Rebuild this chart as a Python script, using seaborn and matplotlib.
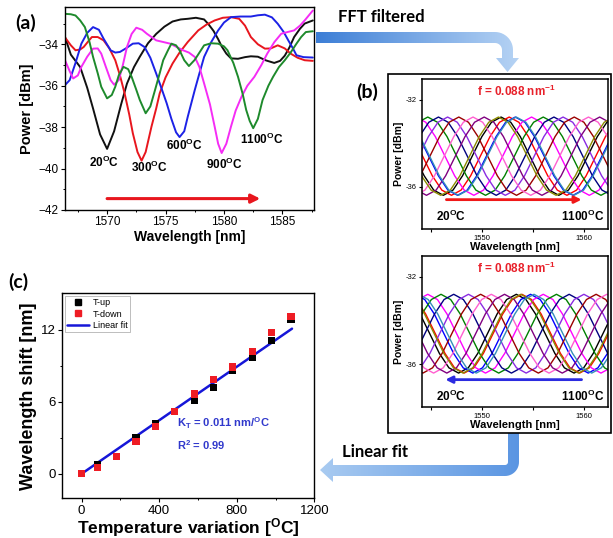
import numpy as np
import pandas as pd
import matplotlib
matplotlib.use("Agg")
import matplotlib.pyplot as plt
import seaborn as sns
from matplotlib.path import Path
from matplotlib.patches import PathPatch, Rectangle
from matplotlib.colors import LinearSegmentedColormap
from matplotlib.lines import Line2D

# ---------------- panel (a): raw transmission spectra ----------------
temps_a = ["20", "300", "600", "900", "1100"]
colors_a = ["#111111", "#e8161e", "#1c22e6", "#f52cf5", "#1e8a2c"]

wl_20 = [1566.4, 1566.9, 1567.7, 1568.3, 1568.8, 1569.4, 1570.0, 1570.6, 1571.2, 1571.7, 1572.3, 1572.8,
         1573.5, 1574.2, 1574.9, 1575.6, 1576.3, 1576.9, 1577.6, 1578.3, 1578.7, 1579.1, 1579.5, 1579.8,
         1580.2, 1580.6, 1581.2, 1581.8, 1582.3, 1582.9, 1583.6, 1584.3, 1584.8, 1585.2, 1585.6, 1586.0,
         1586.5, 1586.9, 1587.6]
pw_20 = [-33.65, -34.5, -35.1, -36.1, -37.1, -38.35, -39.05, -38.2, -36.9, -35.9, -35.1, -34.6,
         -33.95, -33.5, -33.15, -32.9, -32.8, -32.77, -32.72, -32.8, -33.05, -33.35, -33.75, -34.1,
         -34.45, -34.68, -34.7, -34.62, -34.58, -34.6, -34.78, -34.9, -34.8, -34.55, -34.15, -33.65,
         -33.25, -33.0, -32.85]

wl_300 = [1566.4, 1566.9, 1567.3, 1567.7, 1568.0, 1568.4, 1568.7, 1569.2, 1569.7, 1570.2, 1570.7, 1571.1,
          1571.5, 1571.9, 1572.2, 1572.6, 1572.95, 1573.3, 1573.8, 1574.2, 1574.5, 1575.0, 1575.6, 1576.2,
          1576.9, 1577.8, 1578.5, 1579.2, 1579.9, 1580.6, 1581.3, 1581.8, 1582.3, 1582.9, 1583.5, 1584.0,
          1584.6, 1585.2, 1585.7, 1586.3, 1586.9, 1587.6]
pw_300 = [-33.67, -34.05, -34.29, -34.25, -34.13, -33.85, -33.65, -33.65, -33.81, -34.2, -34.77, -35.5,
          -36.37, -37.4, -38.29, -39.2, -39.62, -39.2, -37.97, -37.1, -36.37, -35.6, -34.93, -34.4,
          -33.89, -33.33, -33.05, -32.85, -32.72, -32.69, -32.77, -33.1, -33.65, -34.0, -34.21, -34.2,
          -34.05, -34.2, -34.45, -34.65, -34.77, -34.8]

wl_600 = [1566.4, 1566.8, 1567.3, 1567.8, 1568.3, 1568.8, 1569.3, 1569.7, 1570.3, 1570.7, 1571.1, 1571.6,
          1572.2, 1572.7, 1573.2, 1573.7, 1574.2, 1574.7, 1575.1, 1575.5, 1575.9, 1576.2, 1576.6, 1576.9,
          1577.5, 1577.9, 1578.3, 1578.9, 1579.5, 1580.0, 1580.6, 1581.4, 1582.3, 1582.9, 1583.5, 1584.1,
          1584.6, 1585.1, 1585.5, 1585.9, 1586.2, 1586.8, 1587.6]
pw_600 = [-35.97, -35.73, -34.9, -33.97, -33.45, -33.17, -33.3, -33.73, -34.29, -34.4, -34.37, -34.2,
          -33.97, -33.95, -34.13, -34.65, -35.41, -36.2, -36.85, -37.6, -38.25, -38.48, -38.2, -37.5,
          -36.21, -35.4, -34.61, -33.9, -33.33, -32.95, -32.69, -32.66, -32.66, -32.6, -32.57, -32.7,
          -33.01, -33.4, -33.81, -34.2, -34.53, -34.62, -34.64]

wl_900 = [1566.4, 1566.8, 1567.1, 1567.5, 1567.8, 1568.3, 1568.8, 1569.2, 1569.5, 1569.9, 1570.3, 1570.6,
          1571.0, 1571.35, 1571.7, 1572.1, 1572.5, 1573.0, 1573.4, 1574.2, 1575.4, 1576.5, 1577.0, 1577.5,
          1577.9, 1578.3, 1578.8, 1579.2, 1579.5, 1579.8, 1580.2, 1580.6, 1581.0, 1581.5, 1582.0, 1582.6,
          1583.2, 1583.7, 1584.3, 1584.9, 1585.5, 1586.0, 1586.5, 1586.9, 1587.6]
pw_900 = [-34.77, -35.3, -35.65, -35.5, -35.09, -34.6, -34.21, -34.2, -34.45, -35.1, -35.73, -35.95,
          -35.73, -35.0, -34.13, -33.5, -33.2, -33.3, -33.49, -33.81, -33.97, -34.29, -34.4, -34.61,
          -35.1, -35.89, -36.9, -37.97, -38.8, -39.25, -38.8, -37.97, -37.2, -36.53, -36.0, -35.57,
          -35.0, -34.45, -33.9, -33.49, -33.4, -33.33, -33.1, -32.85, -32.37]

wl_1100 = [1566.4, 1566.9, 1567.3, 1567.7, 1568.1, 1568.5, 1568.8, 1569.2, 1569.5, 1570.0, 1570.4, 1570.7,
           1571.0, 1571.4, 1571.8, 1572.1, 1572.5, 1572.8, 1573.3, 1573.7, 1574.1, 1574.5, 1574.8, 1575.2,
           1575.5, 1575.9, 1576.2, 1576.6, 1577.0, 1577.5, 1578.3, 1578.9, 1579.5, 1580.0, 1580.3, 1580.8,
           1581.2, 1581.6, 1581.9, 1582.2, 1582.5, 1582.9, 1583.3, 1583.8, 1584.2, 1584.7, 1585.2, 1585.7,
           1586.2, 1586.6, 1587.0, 1587.6]
pw_1100 = [-32.53, -32.55, -32.61, -32.85, -33.17, -33.9, -34.61, -35.4, -36.05, -36.61, -36.45, -36.05,
           -35.5, -35.09, -35.2, -35.57, -36.2, -36.69, -37.33, -37.0, -36.21, -35.4, -34.77, -34.3,
           -33.97, -34.05, -34.29, -34.77, -35.05, -34.75, -34.05, -33.95, -33.97, -34.1, -34.29, -34.9,
           -35.57, -36.4, -37.17, -37.7, -38.05, -37.6, -36.69, -36.0, -35.57, -35.1, -34.77, -34.4,
           -33.97, -33.65, -33.41, -33.37]

# ---------------- panel (b): FFT filtered fringes ----------------
# one fringe, relative to its dip
fringe_offset = [-18.93, -17.99, -17.04, -16.09, -15.15, -14.20, -13.25, -12.31, -11.36, -10.41, -9.47,
                 -8.52, -7.57, -6.63, -5.68, -4.73, -3.79, -2.84, -1.89, -0.95, 0.00, 0.95, 1.89, 2.84,
                 3.79, 4.73, 5.68, 6.63, 7.57, 8.52, 9.47, 10.41, 11.36, 12.31, 13.25, 14.20, 15.15,
                 16.09, 17.04, 17.99, 18.93]
fringe_power = [-33.70, -33.04, -32.80, -33.04, -33.70, -34.60, -35.50, -36.16, -36.40, -36.16, -35.50,
                -34.60, -33.70, -33.04, -32.80, -33.04, -33.70, -34.60, -35.50, -36.16, -36.40, -36.16,
                -35.50, -34.60, -33.70, -33.04, -32.80, -33.04, -33.70, -34.60, -35.50, -36.16, -36.40,
                -36.16, -35.50, -34.60, -33.70, -33.04, -32.80, -33.04, -33.70]
dip_20C_up = 1546.2
dip_20C_down = 1547.7
fringe_colors = ["#000000", "#ff0000", "#0000ff", "#ff00ff", "#008000", "#000080",
                 "#8a2be2", "#9b0000", "#ff5fd0", "#800080", "#8b8b00", "#3590b8"]

# ---------------- panel (c): wavelength shift vs temperature ----------------
temp_var = [0, 80, 180, 280, 380, 480, 580, 680, 780, 880, 980, 1080]
shift_up = [0.0, 0.80, 1.40, 3.00, 4.15, 5.20, 6.10, 7.20, 8.60, 9.70, 11.10, 12.85]
shift_down = [0.0, 0.55, 1.40, 2.65, 3.95, 5.20, 6.65, 7.85, 8.90, 10.20, 11.80, 13.10]
fit_x = [0, 1085]
fit_y = [0.0, 12.1]

# ---------------- style ----------------
sns.set_theme(style="ticks")
plt.rcParams["font.family"] = ["Liberation Sans", "DejaVu Sans"]
plt.rcParams.update({
    "mathtext.fontset": "custom",
    "mathtext.rm": "Liberation Sans",
    "mathtext.bf": "Liberation Sans:bold",
    "mathtext.it": "Liberation Sans:italic",
    "axes.edgecolor": "black",
    "xtick.color": "black",
    "ytick.color": "black",
    "text.color": "black",
    "axes.labelcolor": "black",
})

W, H = 613, 538
fig = plt.figure(figsize=(W / 100, H / 100), dpi=100)


def px_axes(x0, y0, x1, y1):
    return fig.add_axes([x0 / W, 1 - y1 / H, (x1 - x0) / W, (y1 - y0) / H])


def style_axes(ax, lw=1.0, size=8.5, length=3):
    for s in ax.spines.values():
        s.set_linewidth(lw)
        s.set_color("black")
    ax.tick_params(which="major", direction="out", length=length, width=0.8, labelsize=size, pad=1.5)
    ax.tick_params(which="minor", direction="out", length=length * 0.55, width=0.7)


# ---- (a)
ax_a = px_axes(65, 7, 314, 210)
spec = pd.concat([
    pd.DataFrame({"wavelength": w, "power": p, "temp": t})
    for w, p, t in zip([wl_20, wl_300, wl_600, wl_900, wl_1100],
                       [pw_20, pw_300, pw_600, pw_900, pw_1100], temps_a)
])
sns.lineplot(data=spec, x="wavelength", y="power", hue="temp", hue_order=temps_a,
             palette=dict(zip(temps_a, colors_a)), estimator=None, sort=False,
             lw=1.4, legend=False, ax=ax_a)
ax_a.set_xlim(1566.4, 1587.7)
ax_a.set_ylim(-42, -32.2)
ax_a.set_xticks([1570, 1575, 1580, 1585])
ax_a.set_xticks([1567.5, 1572.5, 1577.5, 1582.5, 1587.5], minor=True)
ax_a.set_yticks([-42, -40, -38, -36, -34])
ax_a.set_yticks([-41, -39, -37, -35, -33], minor=True)
style_axes(ax_a)
ax_a.set_xlabel("Wavelength [nm]", fontsize=10, fontweight="bold", labelpad=1)
ax_a.set_ylabel("Power [dBm]", fontsize=10.5, fontweight="bold", labelpad=3)

lab_pos = {"20": (1569.7, -39.7), "300": (1573.6, -39.95), "600": (1576.6, -38.9),
           "900": (1580.05, -39.8), "1100": (1583.25, -38.6)}
for t in temps_a:
    x, y = lab_pos[t]
    ax_a.text(x, y, t + r"$^{\mathbf{O}}$C", fontsize=8.5, fontweight="bold",
              ha="center", va="center")
ax_a.annotate("", xy=(1583.1, -41.45), xytext=(1570.0, -41.45),
              arrowprops=dict(arrowstyle="-|>", color="#e8161e", lw=2.2,
                              mutation_scale=13, shrinkA=0, shrinkB=0))


# ---- (b)
def fringe_panel(ax, dip0, shifts, arrow_start, arrow_end, arrow_color, lab_y):
    frames = []
    for i, s in enumerate(shifts):
        frames.append(pd.DataFrame({
            "wavelength": [dip0 + s + r for r in fringe_offset],
            "power": fringe_power,
            "curve": f"c{i}",
        }))
    df = pd.concat(frames)
    names = [f"c{i}" for i in range(len(shifts))]
    sns.lineplot(data=df, x="wavelength", y="power", hue="curve", hue_order=names,
                 palette=dict(zip(names, fringe_colors)), estimator=None, sort=False,
                 lw=1.0, legend=False, ax=ax)
    ax.set_xlim(1544.1, 1562.4)
    ax.set_ylim(-37.95, -31.05)
    ax.set_xticks([1545, 1550, 1555, 1560])
    ax.set_xticklabels(["", "1550", "", "1560"])
    ax.set_yticks([-36, -32])
    ax.set_yticklabels(["-36", "-32"])
    style_axes(ax, lw=1.1, size=5.5, length=2.5)
    ax.set_xlabel("Wavelength [nm]", fontsize=8, fontweight="bold", labelpad=0)
    ax.set_ylabel("Power [dBm]", fontsize=7.5, fontweight="bold", labelpad=1)
    ax.text(1553.4, -31.6, r"f = 0.088 nm$^{\mathbf{-1}}$", color="#e8202a",
            fontsize=8.5, fontweight="bold", ha="center", va="center")
    ax.annotate("", xy=(arrow_end, lab_y + 0.75), xytext=(arrow_start, lab_y + 0.75),
                arrowprops=dict(arrowstyle="-|>", color=arrow_color, lw=2.0,
                                mutation_scale=10, shrinkA=0, shrinkB=0))
    ax.text(1547.0, lab_y, r"20$^{\mathbf{O}}$C", fontsize=8.5, fontweight="bold",
            ha="center", va="center")
    ax.text(1559.9, lab_y, r"1100$^{\mathbf{O}}$C", fontsize=8.5, fontweight="bold",
            ha="center", va="center")


ax_b1 = px_axes(422, 79, 608, 229)
fringe_panel(ax_b1, dip_20C_up, shift_up, 1546.5, 1559.8, "#f01818", -37.35)
ax_b2 = px_axes(422, 256, 608, 407)
fringe_panel(ax_b2, dip_20C_down, shift_down, 1559.8, 1546.4, "#2b2be0", -37.45)

# ---- (c)
ax_c = px_axes(62.3, 293.3, 314.3, 498.3)
shift_df = pd.DataFrame({
    "dT": temp_var + temp_var,
    "shift": shift_up + shift_down,
    "run": ["T-up"] * len(temp_var) + ["T-down"] * len(temp_var),
})
sns.lineplot(x=fit_x, y=fit_y, color="#1616d8", lw=1.8, ax=ax_c, zorder=2)
sns.scatterplot(data=shift_df, x="dT", y="shift", hue="run",
                palette={"T-up": "#000000", "T-down": "#ee1c24"},
                marker="s", s=26, linewidth=0, legend=False, ax=ax_c, zorder=3)
ax_c.set_xlim(-100, 1200)
ax_c.set_ylim(-2.05, 15.05)
ax_c.set_xticks([0, 400, 800, 1200])
ax_c.set_xticks([200, 600, 1000], minor=True)
ax_c.set_yticks([0, 6, 12])
ax_c.set_yticks([3, 9], minor=True)
style_axes(ax_c, size=9.5)
ax_c.set_xlabel(r"Temperature variation [$^{\mathbf{O}}$C]", fontsize=12.5,
                fontweight="bold", labelpad=0)
ax_c.set_ylabel("Wavelength shift [nm]", fontsize=13, fontweight="bold", labelpad=3)
handles = [
    Line2D([], [], marker="s", ls="", color="#000000", markersize=4),
    Line2D([], [], marker="s", ls="", color="#ee1c24", markersize=4),
    Line2D([], [], color="#1616d8", lw=1.8),
]
leg = ax_c.legend(handles, ["T-up", "T-down", "Linear fit"], loc="upper left",
                  fontsize=6.5, frameon=True, fancybox=False, edgecolor="0.55",
                  borderpad=0.25, handlelength=2.4, labelspacing=0.25,
                  handletextpad=0.4, borderaxespad=0.3)
leg.get_frame().set_linewidth(0.5)
ax_c.text(494, 4.25, r"K$_{\mathbf{T}}$ = 0.011 nm/$^{\mathbf{O}}$C", color="#3038cc",
          fontsize=8, fontweight="bold", ha="left", va="center")
ax_c.text(494, 2.4, r"R$^{\mathbf{2}}$ = 0.99", color="#3038cc",
          fontsize=8, fontweight="bold", ha="left", va="center")

# ---- overlay: panel letters, box around (b), flow arrows
ax_o = fig.add_axes([0, 0, 1, 1], zorder=10)
ax_o.set_axis_off()


def gradient_arrow(verts, c0, c1, x0, x1):
    patch = PathPatch(Path(verts), fc="none", ec="none")
    ax_o.add_patch(patch)
    ys = [v[1] for v in verts]
    cmap = LinearSegmentedColormap.from_list("g", [c0, c1])
    im = ax_o.imshow(np.linspace(0, 1, 256).reshape(1, -1), cmap=cmap, aspect="auto",
                     extent=[x0, x1, max(ys), min(ys)], interpolation="bilinear")
    im.set_clip_path(patch)


a = np.linspace(0, np.pi / 2, 14)
outer = [(495 + 18 * np.sin(t), 50 - 18 * np.cos(t)) for t in a]
inner = [(495 + 7 * np.sin(t), 50 - 7 * np.cos(t)) for t in a[::-1]]
fft_arrow = ([(316, 32)] + outer + [(513, 58), (519, 58), (507.5, 72), (496, 58), (502, 58)]
             + inner + [(316, 43), (316, 32)])
gradient_arrow(fft_arrow, "#3c7ed6", "#b6d3f4", 316, 519)

outer2 = [(505 + 14 * np.cos(t), 462 + 14 * np.sin(t)) for t in a]
inner2 = [(505 + 3 * np.cos(t), 462 + 3 * np.sin(t)) for t in a[::-1]]
fit_arrow = ([(508, 433), (519, 433)] + outer2 + [(333, 476), (333, 482), (320, 470), (333, 458), (333, 465)]
             + inner2 + [(508, 433)])
gradient_arrow(fit_arrow, "#5a95e2", "#a9cbf1", 519, 320)

ax_o.add_patch(Rectangle((388, 74), 223, 359, fill=False, ec="black", lw=1.2))
ax_o.set_xlim(0, W)
ax_o.set_ylim(H, 0)

ax_o.text(381, 17, "FFT filtered", fontsize=12, fontweight="bold", family="Lato",
          ha="center", va="center")
ax_o.text(375, 452, "Linear fit", fontsize=12, fontweight="bold", family="Lato",
          ha="center", va="center")
for lab, (x, y) in {"(a)": (26, 23), "(b)": (367, 92), "(c)": (18, 282)}.items():
    ax_o.text(x, y, lab, fontsize=14, fontweight="bold", family="Lato",
              ha="center", va="center")

fig.savefig("out.png", dpi=100)
